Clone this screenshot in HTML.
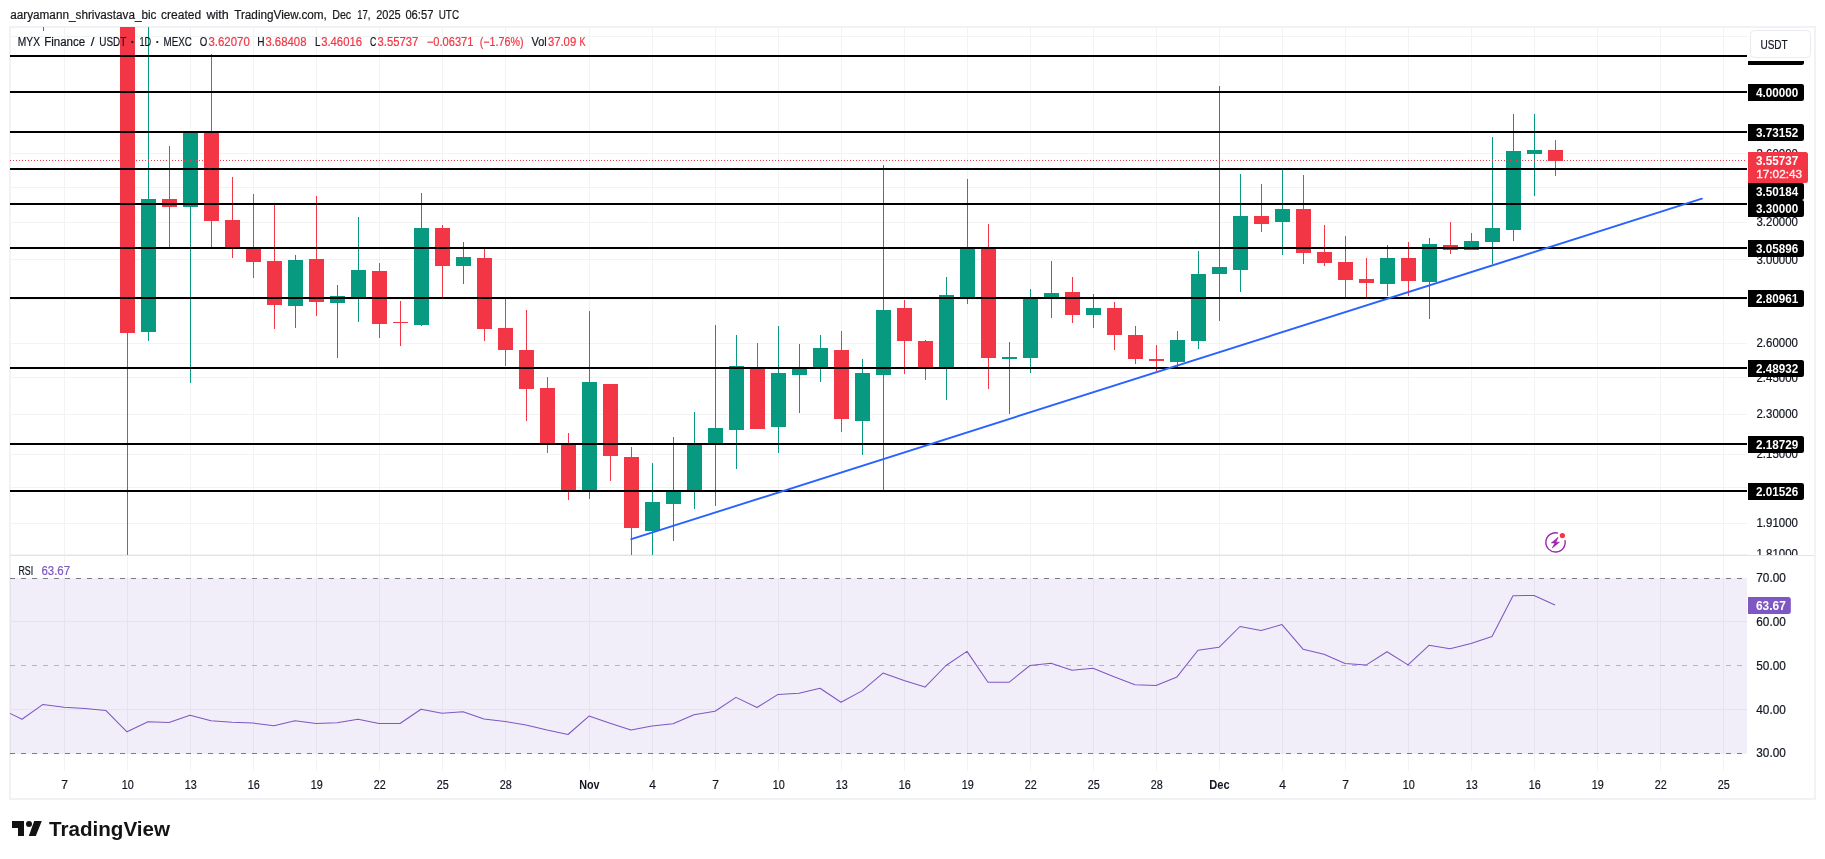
<!DOCTYPE html>
<html lang="en"><head><meta charset="utf-8"><title>MYX Finance / USDT chart</title>
<style>html,body{margin:0;padding:0;background:#fff}svg{display:block;will-change:transform}text{white-space:pre}</style>
</head><body>
<svg width="1825" height="859" viewBox="0 0 1825 859" font-family='"Liberation Sans", sans-serif' font-size="12" fill="#131722">
<rect width="1825" height="859" fill="#fff"/>
<g shape-rendering="crispEdges">
<rect x="9" y="26" width="1807" height="774" fill="#f1f2f3"/>
<rect x="11" y="28" width="1803" height="770" fill="#fff"/>
<rect x="64" y="28" width="1" height="743" fill="#f2f3f3"/>
<rect x="127" y="28" width="1" height="743" fill="#f2f3f3"/>
<rect x="190" y="28" width="1" height="743" fill="#f2f3f3"/>
<rect x="253" y="28" width="1" height="743" fill="#f2f3f3"/>
<rect x="316" y="28" width="1" height="743" fill="#f2f3f3"/>
<rect x="379" y="28" width="1" height="743" fill="#f2f3f3"/>
<rect x="442" y="28" width="1" height="743" fill="#f2f3f3"/>
<rect x="505" y="28" width="1" height="743" fill="#f2f3f3"/>
<rect x="589" y="28" width="1" height="743" fill="#f2f3f3"/>
<rect x="652" y="28" width="1" height="743" fill="#f2f3f3"/>
<rect x="715" y="28" width="1" height="743" fill="#f2f3f3"/>
<rect x="778" y="28" width="1" height="743" fill="#f2f3f3"/>
<rect x="841" y="28" width="1" height="743" fill="#f2f3f3"/>
<rect x="904" y="28" width="1" height="743" fill="#f2f3f3"/>
<rect x="967" y="28" width="1" height="743" fill="#f2f3f3"/>
<rect x="1030" y="28" width="1" height="743" fill="#f2f3f3"/>
<rect x="1093" y="28" width="1" height="743" fill="#f2f3f3"/>
<rect x="1156" y="28" width="1" height="743" fill="#f2f3f3"/>
<rect x="1219" y="28" width="1" height="743" fill="#f2f3f3"/>
<rect x="1282" y="28" width="1" height="743" fill="#f2f3f3"/>
<rect x="1345" y="28" width="1" height="743" fill="#f2f3f3"/>
<rect x="1408" y="28" width="1" height="743" fill="#f2f3f3"/>
<rect x="1471" y="28" width="1" height="743" fill="#f2f3f3"/>
<rect x="1534" y="28" width="1" height="743" fill="#f2f3f3"/>
<rect x="1597" y="28" width="1" height="743" fill="#f2f3f3"/>
<rect x="1660" y="28" width="1" height="743" fill="#f2f3f3"/>
<rect x="1723" y="28" width="1" height="743" fill="#f2f3f3"/>
<rect x="10" y="36" width="1737" height="1" fill="#f2f3f3"/>
<rect x="10" y="92" width="1737" height="1" fill="#f2f3f3"/>
<rect x="10" y="153" width="1737" height="1" fill="#f2f3f3"/>
<rect x="10" y="187" width="1737" height="1" fill="#f2f3f3"/>
<rect x="10" y="222" width="1737" height="1" fill="#f2f3f3"/>
<rect x="10" y="259" width="1737" height="1" fill="#f2f3f3"/>
<rect x="10" y="299" width="1737" height="1" fill="#f2f3f3"/>
<rect x="10" y="343" width="1737" height="1" fill="#f2f3f3"/>
<rect x="10" y="377" width="1737" height="1" fill="#f2f3f3"/>
<rect x="10" y="414" width="1737" height="1" fill="#f2f3f3"/>
<rect x="10" y="454" width="1737" height="1" fill="#f2f3f3"/>
<rect x="10" y="487" width="1737" height="1" fill="#f2f3f3"/>
<rect x="10" y="523" width="1737" height="1" fill="#f2f3f3"/>
<rect x="10" y="554" width="1737" height="1" fill="#f2f3f3"/>
<rect x="10" y="621" width="1737" height="1" fill="#f2f3f3"/>
<rect x="10" y="709" width="1737" height="1" fill="#f2f3f3"/>
<rect x="10" y="555" width="1804" height="1" fill="#e0e3eb"/>
<rect x="43" y="27" width="1" height="4" fill="#089981"/>
<rect x="127" y="27" width="1" height="528" fill="#f23645"/>
<rect x="120" y="27" width="15" height="306" fill="#f23645"/>
<rect x="148" y="27" width="1" height="314" fill="#089981"/>
<rect x="141" y="199" width="15" height="133" fill="#089981"/>
<rect x="169" y="146" width="1" height="101" fill="#f23645"/>
<rect x="162" y="199" width="15" height="8" fill="#f23645"/>
<rect x="190" y="132" width="1" height="251" fill="#089981"/>
<rect x="183" y="132" width="15" height="75" fill="#089981"/>
<rect x="211" y="54" width="1" height="193" fill="#f23645"/>
<rect x="204" y="132" width="15" height="89" fill="#f23645"/>
<rect x="232" y="177" width="1" height="81" fill="#f23645"/>
<rect x="225" y="220" width="15" height="28" fill="#f23645"/>
<rect x="253" y="194" width="1" height="84" fill="#f23645"/>
<rect x="246" y="248" width="15" height="14" fill="#f23645"/>
<rect x="274" y="205" width="1" height="124" fill="#f23645"/>
<rect x="267" y="261" width="15" height="44" fill="#f23645"/>
<rect x="295" y="255" width="1" height="73" fill="#089981"/>
<rect x="288" y="260" width="15" height="46" fill="#089981"/>
<rect x="316" y="196" width="1" height="120" fill="#f23645"/>
<rect x="309" y="259" width="15" height="43" fill="#f23645"/>
<rect x="337" y="285" width="1" height="73" fill="#089981"/>
<rect x="330" y="296" width="15" height="7" fill="#089981"/>
<rect x="358" y="217" width="1" height="105" fill="#089981"/>
<rect x="351" y="270" width="15" height="28" fill="#089981"/>
<rect x="379" y="263" width="1" height="75" fill="#f23645"/>
<rect x="372" y="271" width="15" height="53" fill="#f23645"/>
<rect x="400" y="301" width="1" height="45" fill="#f23645"/>
<rect x="393" y="322" width="15" height="1" fill="#f23645"/>
<rect x="421" y="193" width="1" height="133" fill="#089981"/>
<rect x="414" y="228" width="15" height="97" fill="#089981"/>
<rect x="442" y="225" width="1" height="72" fill="#f23645"/>
<rect x="435" y="228" width="15" height="38" fill="#f23645"/>
<rect x="463" y="242" width="1" height="42" fill="#089981"/>
<rect x="456" y="257" width="15" height="9" fill="#089981"/>
<rect x="484" y="249" width="1" height="92" fill="#f23645"/>
<rect x="477" y="258" width="15" height="71" fill="#f23645"/>
<rect x="505" y="299" width="1" height="67" fill="#f23645"/>
<rect x="498" y="328" width="15" height="22" fill="#f23645"/>
<rect x="526" y="310" width="1" height="111" fill="#f23645"/>
<rect x="519" y="350" width="15" height="39" fill="#f23645"/>
<rect x="547" y="377" width="1" height="76" fill="#f23645"/>
<rect x="540" y="388" width="15" height="56" fill="#f23645"/>
<rect x="568" y="433" width="1" height="67" fill="#f23645"/>
<rect x="561" y="444" width="15" height="48" fill="#f23645"/>
<rect x="589" y="311" width="1" height="188" fill="#089981"/>
<rect x="582" y="382" width="15" height="110" fill="#089981"/>
<rect x="610" y="384" width="1" height="97" fill="#f23645"/>
<rect x="603" y="384" width="15" height="72" fill="#f23645"/>
<rect x="631" y="447" width="1" height="108" fill="#f23645"/>
<rect x="624" y="457" width="15" height="71" fill="#f23645"/>
<rect x="652" y="463" width="1" height="92" fill="#089981"/>
<rect x="645" y="502" width="15" height="29" fill="#089981"/>
<rect x="673" y="437" width="1" height="104" fill="#089981"/>
<rect x="666" y="490" width="15" height="14" fill="#089981"/>
<rect x="694" y="412" width="1" height="97" fill="#089981"/>
<rect x="687" y="444" width="15" height="47" fill="#089981"/>
<rect x="715" y="325" width="1" height="181" fill="#089981"/>
<rect x="708" y="428" width="15" height="15" fill="#089981"/>
<rect x="736" y="335" width="1" height="134" fill="#089981"/>
<rect x="729" y="366" width="15" height="64" fill="#089981"/>
<rect x="757" y="343" width="1" height="86" fill="#f23645"/>
<rect x="750" y="368" width="15" height="61" fill="#f23645"/>
<rect x="778" y="326" width="1" height="127" fill="#089981"/>
<rect x="771" y="373" width="15" height="54" fill="#089981"/>
<rect x="799" y="344" width="1" height="69" fill="#089981"/>
<rect x="792" y="368" width="15" height="7" fill="#089981"/>
<rect x="820" y="335" width="1" height="47" fill="#089981"/>
<rect x="813" y="348" width="15" height="20" fill="#089981"/>
<rect x="841" y="331" width="1" height="101" fill="#f23645"/>
<rect x="834" y="350" width="15" height="69" fill="#f23645"/>
<rect x="862" y="359" width="1" height="96" fill="#089981"/>
<rect x="855" y="373" width="15" height="48" fill="#089981"/>
<rect x="883" y="165" width="1" height="326" fill="#089981"/>
<rect x="876" y="310" width="15" height="65" fill="#089981"/>
<rect x="904" y="300" width="1" height="74" fill="#f23645"/>
<rect x="897" y="308" width="15" height="33" fill="#f23645"/>
<rect x="925" y="340" width="1" height="40" fill="#f23645"/>
<rect x="918" y="341" width="15" height="27" fill="#f23645"/>
<rect x="946" y="277" width="1" height="123" fill="#089981"/>
<rect x="939" y="295" width="15" height="73" fill="#089981"/>
<rect x="967" y="179" width="1" height="125" fill="#089981"/>
<rect x="960" y="248" width="15" height="50" fill="#089981"/>
<rect x="988" y="224" width="1" height="165" fill="#f23645"/>
<rect x="981" y="248" width="15" height="110" fill="#f23645"/>
<rect x="1009" y="342" width="1" height="72" fill="#089981"/>
<rect x="1002" y="357" width="15" height="2" fill="#089981"/>
<rect x="1030" y="289" width="1" height="84" fill="#089981"/>
<rect x="1023" y="298" width="15" height="60" fill="#089981"/>
<rect x="1051" y="261" width="1" height="57" fill="#089981"/>
<rect x="1044" y="293" width="15" height="5" fill="#089981"/>
<rect x="1072" y="277" width="1" height="46" fill="#f23645"/>
<rect x="1065" y="292" width="15" height="23" fill="#f23645"/>
<rect x="1093" y="294" width="1" height="34" fill="#089981"/>
<rect x="1086" y="308" width="15" height="7" fill="#089981"/>
<rect x="1114" y="302" width="1" height="48" fill="#f23645"/>
<rect x="1107" y="308" width="15" height="27" fill="#f23645"/>
<rect x="1135" y="326" width="1" height="38" fill="#f23645"/>
<rect x="1128" y="335" width="15" height="24" fill="#f23645"/>
<rect x="1156" y="345" width="1" height="26" fill="#f23645"/>
<rect x="1149" y="359" width="15" height="2" fill="#f23645"/>
<rect x="1177" y="331" width="1" height="36" fill="#089981"/>
<rect x="1170" y="340" width="15" height="22" fill="#089981"/>
<rect x="1198" y="251" width="1" height="98" fill="#089981"/>
<rect x="1191" y="274" width="15" height="67" fill="#089981"/>
<rect x="1219" y="86" width="1" height="235" fill="#089981"/>
<rect x="1212" y="267" width="15" height="7" fill="#089981"/>
<rect x="1240" y="174" width="1" height="118" fill="#089981"/>
<rect x="1233" y="216" width="15" height="54" fill="#089981"/>
<rect x="1261" y="184" width="1" height="48" fill="#f23645"/>
<rect x="1254" y="216" width="15" height="8" fill="#f23645"/>
<rect x="1282" y="170" width="1" height="85" fill="#089981"/>
<rect x="1275" y="209" width="15" height="13" fill="#089981"/>
<rect x="1303" y="175" width="1" height="89" fill="#f23645"/>
<rect x="1296" y="209" width="15" height="44" fill="#f23645"/>
<rect x="1324" y="225" width="1" height="41" fill="#f23645"/>
<rect x="1317" y="252" width="15" height="11" fill="#f23645"/>
<rect x="1345" y="236" width="1" height="61" fill="#f23645"/>
<rect x="1338" y="262" width="15" height="18" fill="#f23645"/>
<rect x="1366" y="258" width="1" height="39" fill="#f23645"/>
<rect x="1359" y="279" width="15" height="4" fill="#f23645"/>
<rect x="1387" y="245" width="1" height="51" fill="#089981"/>
<rect x="1380" y="258" width="15" height="26" fill="#089981"/>
<rect x="1408" y="242" width="1" height="54" fill="#f23645"/>
<rect x="1401" y="258" width="15" height="23" fill="#f23645"/>
<rect x="1429" y="238" width="1" height="81" fill="#089981"/>
<rect x="1422" y="244" width="15" height="38" fill="#089981"/>
<rect x="1450" y="222" width="1" height="32" fill="#f23645"/>
<rect x="1443" y="245" width="15" height="5" fill="#f23645"/>
<rect x="1471" y="233" width="1" height="17" fill="#089981"/>
<rect x="1464" y="241" width="15" height="9" fill="#089981"/>
<rect x="1492" y="137" width="1" height="127" fill="#089981"/>
<rect x="1485" y="228" width="15" height="14" fill="#089981"/>
<rect x="1513" y="114" width="1" height="127" fill="#089981"/>
<rect x="1506" y="151" width="15" height="79" fill="#089981"/>
<rect x="1534" y="114" width="1" height="82" fill="#089981"/>
<rect x="1527" y="150" width="15" height="4" fill="#089981"/>
<rect x="1555" y="140" width="1" height="36" fill="#f23645"/>
<rect x="1548" y="150" width="15" height="11" fill="#f23645"/>
<rect x="10" y="55" width="1737" height="2" fill="#000"/>
<rect x="10" y="91" width="1737" height="2" fill="#000"/>
<rect x="10" y="131" width="1737" height="2" fill="#000"/>
<rect x="10" y="168" width="1737" height="2" fill="#000"/>
<rect x="10" y="203" width="1737" height="2" fill="#000"/>
<rect x="10" y="247" width="1737" height="2" fill="#000"/>
<rect x="10" y="297" width="1737" height="2" fill="#000"/>
<rect x="10" y="367" width="1737" height="2" fill="#000"/>
<rect x="10" y="443" width="1737" height="2" fill="#000"/>
<rect x="10" y="490" width="1737" height="2" fill="#000"/>
</g>
<line x1="631.3" y1="539.2" x2="1701.9" y2="198.7" stroke="#2962ff" stroke-width="1.9" stroke-linecap="round"/>
<line x1="10" y1="160.5" x2="1747" y2="160.5" stroke="#f23645" stroke-width="1" stroke-dasharray="1 2" shape-rendering="crispEdges"/>
<rect x="10" y="578" width="1737" height="176" fill="#7e57c2" fill-opacity="0.1" shape-rendering="crispEdges"/>
<line x1="10" y1="578.5" x2="1747" y2="578.5" stroke="#787b86" stroke-dasharray="5 6" shape-rendering="crispEdges"/>
<line x1="10" y1="665.5" x2="1747" y2="665.5" stroke="#787b86" stroke-opacity="0.5" stroke-dasharray="5 6" shape-rendering="crispEdges"/>
<line x1="10" y1="753.5" x2="1747" y2="753.5" stroke="#787b86" stroke-dasharray="5 6" shape-rendering="crispEdges"/>
<polyline points="10,713.4 22,719.3 43,704.4 64,707.3 85,708.4 106,710.6 127,731.8 148,721.8 169,722.4 190,715.2 211,720.7 232,722.2 253,723.1 274,725.7 295,720.7 316,723.5 337,722.8 358,719.3 379,723.5 400,723.5 421,709.3 442,713.2 463,711.7 484,719.1 505,721.5 526,725 547,730.1 568,734.5 589,716.1 610,723.3 631,730.1 652,726.1 673,723.7 694,714.7 715,711.2 736,697.4 757,707.5 778,694.4 799,693.3 820,688.2 841,702.3 862,690.9 883,673.1 904,680.6 925,687.1 946,665.5 967,651.4 988,682.3 1009,682.3 1030,665.5 1051,663.3 1072,670.3 1093,668.3 1114,676.8 1135,684.7 1156,685.4 1177,676.9 1198,650.2 1219,647.3 1240,626.5 1261,630.6 1282,624.6 1303,649.2 1324,654.3 1345,663.4 1366,665.1 1387,651.8 1408,664.9 1429,645.3 1450,648.7 1471,643.6 1492,636.4 1513,595.7 1534,595.4 1555,605.1" fill="none" stroke="#7e57c2" stroke-width="1.05" stroke-linejoin="round"/>
<g fill="none" stroke="#9c27b0" stroke-width="1.4"><path d="M1564.9 540.1 A9.65 9.65 0 1 1 1558.1 533.1"/></g>
<path d="M1558.1 537.3 L1551.4 542.9 L1555 542.9 L1552.3 547.9 L1559.4 542.2 L1555.8 542.2 Z" fill="#9c27b0" stroke="#9c27b0" stroke-width="0.7" stroke-linejoin="round"/>
<circle cx="1562.4" cy="535.6" r="2.6" fill="#f23645"/>
<text y="18.5" fill="#16181d" stroke="#16181d" stroke-width="0.2"><tspan x="10.2" textLength="146.3" lengthAdjust="spacingAndGlyphs">aaryamann_shrivastava_bic</tspan> <tspan x="161.1" textLength="40.1" lengthAdjust="spacingAndGlyphs">created</tspan> <tspan x="206.5" textLength="22.3" lengthAdjust="spacingAndGlyphs">with</tspan> <tspan x="234.2" textLength="92.7" lengthAdjust="spacingAndGlyphs">TradingView.com,</tspan> <tspan x="332.2" textLength="19.0" lengthAdjust="spacingAndGlyphs">Dec</tspan> <tspan x="357.2" textLength="13.1" lengthAdjust="spacingAndGlyphs">17,</tspan> <tspan x="376.2" textLength="24.4" lengthAdjust="spacingAndGlyphs">2025</tspan> <tspan x="405.4" textLength="28.0" lengthAdjust="spacingAndGlyphs">06:57</tspan> <tspan x="438.7" textLength="20.4" lengthAdjust="spacingAndGlyphs">UTC</tspan></text>
<text y="45.6" stroke-width="0.2"><tspan x="17.8" textLength="22.2" lengthAdjust="spacingAndGlyphs" fill="#131722" stroke="#131722">MYX</tspan> <tspan x="44.2" textLength="41.0" lengthAdjust="spacingAndGlyphs" fill="#131722" stroke="#131722">Finance</tspan> <tspan x="90.7" textLength="3.7" lengthAdjust="spacingAndGlyphs" fill="#131722" stroke="#131722">/</tspan> <tspan x="99.3" textLength="26.9" lengthAdjust="spacingAndGlyphs" fill="#131722" stroke="#131722">USDT</tspan> <tspan x="139.4" textLength="11.8" lengthAdjust="spacingAndGlyphs" fill="#131722" stroke="#131722">1D</tspan> <tspan x="163.5" textLength="28.2" lengthAdjust="spacingAndGlyphs" fill="#131722" stroke="#131722">MEXC</tspan> <tspan x="199.8" textLength="7.5" lengthAdjust="spacingAndGlyphs" fill="#131722" stroke="#131722">O</tspan> <tspan x="208.4" textLength="41.4" lengthAdjust="spacingAndGlyphs" fill="#f23645" stroke="#f23645">3.62070</tspan> <tspan x="257.3" textLength="7.3" lengthAdjust="spacingAndGlyphs" fill="#131722" stroke="#131722">H</tspan> <tspan x="265.4" textLength="41.1" lengthAdjust="spacingAndGlyphs" fill="#f23645" stroke="#f23645">3.68408</tspan> <tspan x="314.9" textLength="5.1" lengthAdjust="spacingAndGlyphs" fill="#131722" stroke="#131722">L</tspan> <tspan x="321.2" textLength="40.8" lengthAdjust="spacingAndGlyphs" fill="#f23645" stroke="#f23645">3.46016</tspan> <tspan x="370.1" textLength="6.3" lengthAdjust="spacingAndGlyphs" fill="#131722" stroke="#131722">C</tspan> <tspan x="377.6" textLength="40.6" lengthAdjust="spacingAndGlyphs" fill="#f23645" stroke="#f23645">3.55737</tspan> <tspan x="426.8" textLength="46.6" lengthAdjust="spacingAndGlyphs" fill="#f23645" stroke="#f23645">−0.06371</tspan> <tspan x="479.8" textLength="43.7" lengthAdjust="spacingAndGlyphs" fill="#f23645" stroke="#f23645">(−1.76%)</tspan> <tspan x="531.5" textLength="15.2" lengthAdjust="spacingAndGlyphs" fill="#131722" stroke="#131722">Vol</tspan> <tspan x="547.9" textLength="28.3" lengthAdjust="spacingAndGlyphs" fill="#f23645" stroke="#f23645">37.09</tspan> <tspan x="579.6" textLength="6.0" lengthAdjust="spacingAndGlyphs" fill="#f23645" stroke="#f23645">K</tspan></text>
<text x="132.55" y="46.4" text-anchor="middle" font-weight="bold" font-size="13">·</text>
<text x="157.6" y="46.4" text-anchor="middle" font-weight="bold" font-size="13">·</text>
<text x="18.4" y="574.8" textLength="14.8" lengthAdjust="spacingAndGlyphs" stroke="#131722" stroke-width="0.2">RSI</text>
<text x="41.4" y="574.8" textLength="28.7" lengthAdjust="spacingAndGlyphs" fill="#7e57c2" stroke="#7e57c2" stroke-width="0.2">63.67</text>
<clipPath id="axclip"><rect x="1747" y="28" width="67" height="527"/></clipPath>
<g clip-path="url(#axclip)">
<text x="1756.5" y="157.5" textLength="41.4" lengthAdjust="spacingAndGlyphs" stroke="#131722" stroke-width="0.2">3.60000</text>
<text x="1756.5" y="226.0" textLength="41.4" lengthAdjust="spacingAndGlyphs" stroke="#131722" stroke-width="0.2">3.20000</text>
<text x="1756.5" y="263.5" textLength="41.4" lengthAdjust="spacingAndGlyphs" stroke="#131722" stroke-width="0.2">3.00000</text>
<text x="1756.5" y="346.5" textLength="41.4" lengthAdjust="spacingAndGlyphs" stroke="#131722" stroke-width="0.2">2.60000</text>
<text x="1756.5" y="381.5" textLength="41.4" lengthAdjust="spacingAndGlyphs" stroke="#131722" stroke-width="0.2">2.45000</text>
<text x="1756.5" y="418.0" textLength="41.4" lengthAdjust="spacingAndGlyphs" stroke="#131722" stroke-width="0.2">2.30000</text>
<text x="1756.5" y="457.5" textLength="41.4" lengthAdjust="spacingAndGlyphs" stroke="#131722" stroke-width="0.2">2.15000</text>
<text x="1756.5" y="527.0" textLength="41.4" lengthAdjust="spacingAndGlyphs" stroke="#131722" stroke-width="0.2">1.91000</text>
<text x="1756.5" y="557.5" textLength="41.4" lengthAdjust="spacingAndGlyphs" stroke="#131722" stroke-width="0.2">1.81000</text>
</g>
<text x="1756.3" y="582.0" textLength="29.5" lengthAdjust="spacingAndGlyphs" stroke="#131722" stroke-width="0.2">70.00</text>
<text x="1756.3" y="626.0" textLength="29.5" lengthAdjust="spacingAndGlyphs" stroke="#131722" stroke-width="0.2">60.00</text>
<text x="1756.3" y="670.0" textLength="29.5" lengthAdjust="spacingAndGlyphs" stroke="#131722" stroke-width="0.2">50.00</text>
<text x="1756.3" y="713.5" textLength="29.5" lengthAdjust="spacingAndGlyphs" stroke="#131722" stroke-width="0.2">40.00</text>
<text x="1756.3" y="757.0" textLength="29.5" lengthAdjust="spacingAndGlyphs" stroke="#131722" stroke-width="0.2">30.00</text>
<path d="M1748 48 h53.5 a2.5 2.5 0 0 1 2.5 2.5 v12 a2.5 2.5 0 0 1 -2.5 2.5 h-53.5 z" fill="#000"/>
<path d="M1748 84 h53.5 a2.5 2.5 0 0 1 2.5 2.5 v12 a2.5 2.5 0 0 1 -2.5 2.5 h-53.5 z" fill="#000"/>
<text x="1756" y="96.8" textLength="42.2" lengthAdjust="spacingAndGlyphs" fill="#fff" font-weight="bold" font-size="12">4.00000</text>
<path d="M1748 124 h53.5 a2.5 2.5 0 0 1 2.5 2.5 v12 a2.5 2.5 0 0 1 -2.5 2.5 h-53.5 z" fill="#000"/>
<text x="1756" y="136.8" textLength="42.2" lengthAdjust="spacingAndGlyphs" fill="#fff" font-weight="bold" font-size="12">3.73152</text>
<path d="M1748 183 h53.5 a2.5 2.5 0 0 1 2.5 2.5 v12 a2.5 2.5 0 0 1 -2.5 2.5 h-53.5 z" fill="#000"/>
<text x="1756" y="195.8" textLength="42.2" lengthAdjust="spacingAndGlyphs" fill="#fff" font-weight="bold" font-size="12">3.50184</text>
<path d="M1748 200 h53.5 a2.5 2.5 0 0 1 2.5 2.5 v12 a2.5 2.5 0 0 1 -2.5 2.5 h-53.5 z" fill="#000"/>
<text x="1756" y="212.8" textLength="42.2" lengthAdjust="spacingAndGlyphs" fill="#fff" font-weight="bold" font-size="12">3.30000</text>
<path d="M1748 240 h53.5 a2.5 2.5 0 0 1 2.5 2.5 v12 a2.5 2.5 0 0 1 -2.5 2.5 h-53.5 z" fill="#000"/>
<text x="1756" y="252.8" textLength="42.2" lengthAdjust="spacingAndGlyphs" fill="#fff" font-weight="bold" font-size="12">3.05896</text>
<path d="M1748 290 h53.5 a2.5 2.5 0 0 1 2.5 2.5 v12 a2.5 2.5 0 0 1 -2.5 2.5 h-53.5 z" fill="#000"/>
<text x="1756" y="302.8" textLength="42.2" lengthAdjust="spacingAndGlyphs" fill="#fff" font-weight="bold" font-size="12">2.80961</text>
<path d="M1748 360 h53.5 a2.5 2.5 0 0 1 2.5 2.5 v12 a2.5 2.5 0 0 1 -2.5 2.5 h-53.5 z" fill="#000"/>
<text x="1756" y="372.8" textLength="42.2" lengthAdjust="spacingAndGlyphs" fill="#fff" font-weight="bold" font-size="12">2.48932</text>
<path d="M1748 436 h53.5 a2.5 2.5 0 0 1 2.5 2.5 v12 a2.5 2.5 0 0 1 -2.5 2.5 h-53.5 z" fill="#000"/>
<text x="1756" y="448.8" textLength="42.2" lengthAdjust="spacingAndGlyphs" fill="#fff" font-weight="bold" font-size="12">2.18729</text>
<path d="M1748 483 h53.5 a2.5 2.5 0 0 1 2.5 2.5 v12 a2.5 2.5 0 0 1 -2.5 2.5 h-53.5 z" fill="#000"/>
<text x="1756" y="495.8" textLength="42.2" lengthAdjust="spacingAndGlyphs" fill="#fff" font-weight="bold" font-size="12">2.01526</text>
<path d="M1748 152 h57.5 a2.5 2.5 0 0 1 2.5 2.5 v26 a2.5 2.5 0 0 1 -2.5 2.5 h-57.5 z" fill="#f23645"/>
<text x="1756" y="164.6" textLength="42.2" lengthAdjust="spacingAndGlyphs" fill="#fff" font-weight="bold" font-size="12">3.55737</text>
<text x="1756.3" y="178.4" textLength="45.7" lengthAdjust="spacingAndGlyphs" fill="#fff" fill-opacity="0.9" stroke-width="0.35" font-size="10.8" stroke="#fff" stroke-opacity="0.9">17:02:43</text>
<path d="M1748 597 h40.3 a2.5 2.5 0 0 1 2.5 2.5 v12 a2.5 2.5 0 0 1 -2.5 2.5 h-40.3 z" fill="#7e57c2"/>
<text x="1756" y="609.9" textLength="29.8" lengthAdjust="spacingAndGlyphs" fill="#fff" font-weight="bold" font-size="12">63.67</text>
<rect x="1748" y="28" width="65" height="33" fill="#fff"/>
<rect x="1750.5" y="30.5" width="60" height="27" rx="4" fill="#fff" stroke="#e9ebf0"/>
<text x="1760.4" y="49" textLength="27.3" lengthAdjust="spacingAndGlyphs" stroke="#131722" stroke-width="0.2">USDT</text>
<text x="64.7" y="789.0" text-anchor="middle" stroke="#131722" stroke-width="0.2">7</text>
<text x="127.7" y="789.0" textLength="12.0" lengthAdjust="spacingAndGlyphs" text-anchor="middle" stroke="#131722" stroke-width="0.2">10</text>
<text x="190.7" y="789.0" textLength="12.0" lengthAdjust="spacingAndGlyphs" text-anchor="middle" stroke="#131722" stroke-width="0.2">13</text>
<text x="253.7" y="789.0" textLength="12.0" lengthAdjust="spacingAndGlyphs" text-anchor="middle" stroke="#131722" stroke-width="0.2">16</text>
<text x="316.7" y="789.0" textLength="12.0" lengthAdjust="spacingAndGlyphs" text-anchor="middle" stroke="#131722" stroke-width="0.2">19</text>
<text x="379.7" y="789.0" textLength="12.0" lengthAdjust="spacingAndGlyphs" text-anchor="middle" stroke="#131722" stroke-width="0.2">22</text>
<text x="442.7" y="789.0" textLength="12.0" lengthAdjust="spacingAndGlyphs" text-anchor="middle" stroke="#131722" stroke-width="0.2">25</text>
<text x="505.7" y="789.0" textLength="12.0" lengthAdjust="spacingAndGlyphs" text-anchor="middle" stroke="#131722" stroke-width="0.2">28</text>
<text x="589.4" y="789.0" textLength="20.4" lengthAdjust="spacingAndGlyphs" text-anchor="middle" font-weight="bold" font-size="12">Nov</text>
<text x="652.7" y="789.0" text-anchor="middle" stroke="#131722" stroke-width="0.2">4</text>
<text x="715.7" y="789.0" text-anchor="middle" stroke="#131722" stroke-width="0.2">7</text>
<text x="778.7" y="789.0" textLength="12.0" lengthAdjust="spacingAndGlyphs" text-anchor="middle" stroke="#131722" stroke-width="0.2">10</text>
<text x="841.7" y="789.0" textLength="12.0" lengthAdjust="spacingAndGlyphs" text-anchor="middle" stroke="#131722" stroke-width="0.2">13</text>
<text x="904.7" y="789.0" textLength="12.0" lengthAdjust="spacingAndGlyphs" text-anchor="middle" stroke="#131722" stroke-width="0.2">16</text>
<text x="967.7" y="789.0" textLength="12.0" lengthAdjust="spacingAndGlyphs" text-anchor="middle" stroke="#131722" stroke-width="0.2">19</text>
<text x="1030.7" y="789.0" textLength="12.0" lengthAdjust="spacingAndGlyphs" text-anchor="middle" stroke="#131722" stroke-width="0.2">22</text>
<text x="1093.7" y="789.0" textLength="12.0" lengthAdjust="spacingAndGlyphs" text-anchor="middle" stroke="#131722" stroke-width="0.2">25</text>
<text x="1156.7" y="789.0" textLength="12.0" lengthAdjust="spacingAndGlyphs" text-anchor="middle" stroke="#131722" stroke-width="0.2">28</text>
<text x="1219.4" y="789.0" textLength="20.4" lengthAdjust="spacingAndGlyphs" text-anchor="middle" font-weight="bold" font-size="12">Dec</text>
<text x="1282.7" y="789.0" text-anchor="middle" stroke="#131722" stroke-width="0.2">4</text>
<text x="1345.7" y="789.0" text-anchor="middle" stroke="#131722" stroke-width="0.2">7</text>
<text x="1408.7" y="789.0" textLength="12.0" lengthAdjust="spacingAndGlyphs" text-anchor="middle" stroke="#131722" stroke-width="0.2">10</text>
<text x="1471.7" y="789.0" textLength="12.0" lengthAdjust="spacingAndGlyphs" text-anchor="middle" stroke="#131722" stroke-width="0.2">13</text>
<text x="1534.7" y="789.0" textLength="12.0" lengthAdjust="spacingAndGlyphs" text-anchor="middle" stroke="#131722" stroke-width="0.2">16</text>
<text x="1597.7" y="789.0" textLength="12.0" lengthAdjust="spacingAndGlyphs" text-anchor="middle" stroke="#131722" stroke-width="0.2">19</text>
<text x="1660.7" y="789.0" textLength="12.0" lengthAdjust="spacingAndGlyphs" text-anchor="middle" stroke="#131722" stroke-width="0.2">22</text>
<text x="1723.7" y="789.0" textLength="12.0" lengthAdjust="spacingAndGlyphs" text-anchor="middle" stroke="#131722" stroke-width="0.2">25</text>
<g fill="#131313">
<path d="M12 821 H24 V836 H18 V828 H12 Z"/>
<circle cx="29" cy="824" r="3"/>
<path d="M34.2 821 H41.8 L35.8 836 H28.8 Z"/>
</g>
<text x="49" y="835.8" textLength="121" lengthAdjust="spacingAndGlyphs" fill="#131313" font-weight="bold" font-size="20.5">TradingView</text>
</svg>
</body></html>
